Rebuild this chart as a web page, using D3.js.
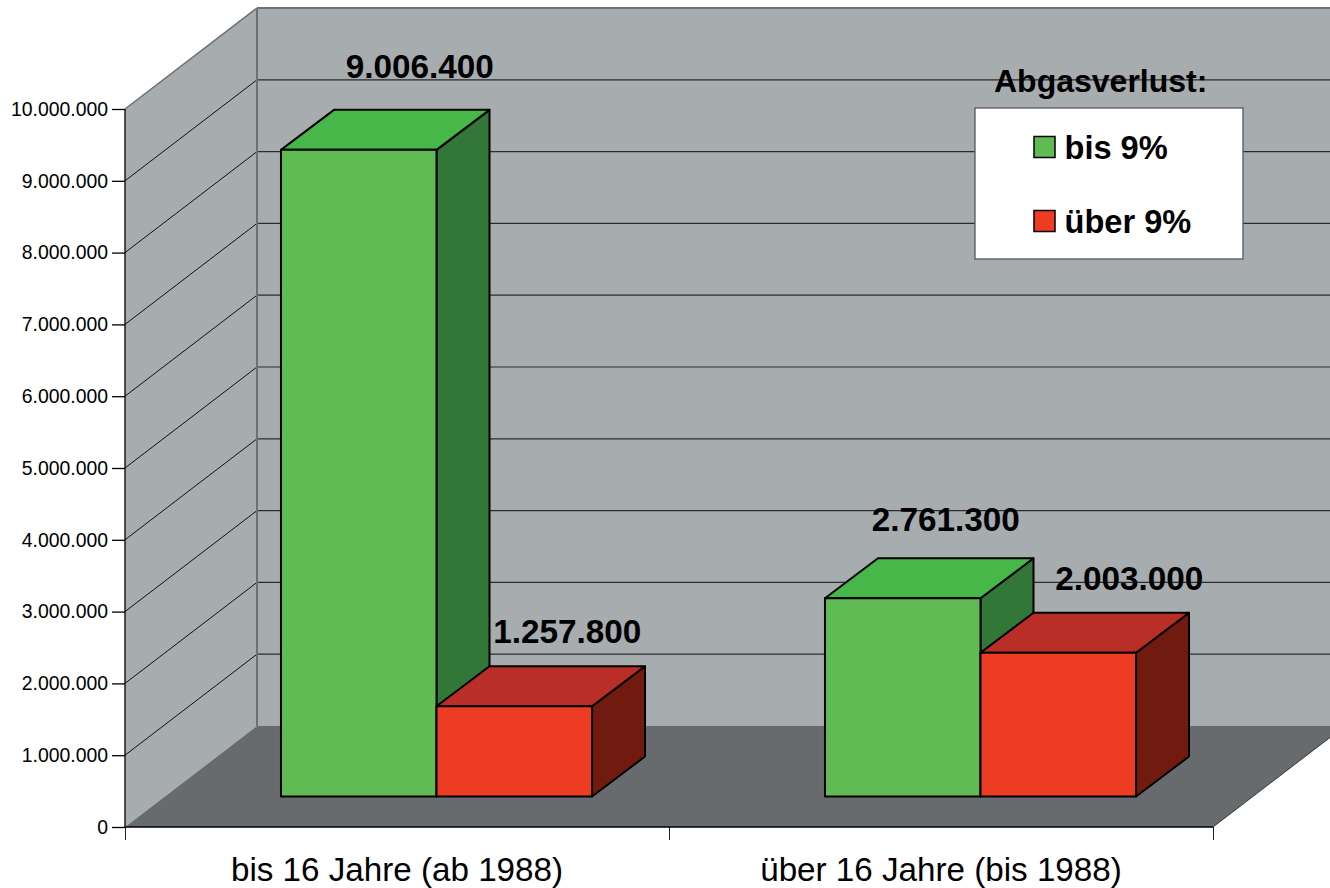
<!DOCTYPE html>
<html>
<head>
<meta charset="utf-8">
<script src="https://cdn.jsdelivr.net/npm/d3@7"></script>
<style>
  html, body { margin: 0; padding: 0; background: #fff; }
  svg { display: block; }
  text { font-family: "Liberation Sans", Arial, sans-serif; fill: #000; }
  .axis path { display: none; }
</style>
</head>
<body>
<div id="chart"></div>
<script>
const categories = ["bis 16 Jahre (ab 1988)", "über 16 Jahre (bis 1988)"];
const seriesNames = ["bis 9%", "über 9%"];
const under9 = [9006400, 2761300];
const over9 = [1257800, 2003000];
const yTicks = [0, 1000000, 2000000, 3000000, 4000000, 5000000, 6000000, 7000000, 8000000, 9000000, 10000000];
const legendTitle = "Abgasverlust:";

const width = 1330, height = 888;
const plotLeft = 125, plotRight = 1213, plotBottom = 827, plotTop = 109;
const wall = { dx: 132, dy: 101 };     // depth of the whole box
const bar = { dx: 53, dy: 40 };        // depth of a column
const inset = { dx: 39.5, dy: 30.5 };  // how far the columns stand from the front edge

const faces = {
  "bis 9%": { front: "#60bb55", top: "#48b749", side: "#337738" },
  "über 9%": { front: "#ee3b23", top: "#b92e26", side: "#701a10" }
};

// hand placed in the original, so they are not regular
const labelNudge = {
  "bis 9%": [{ x: 8, y: -32 }, { x: -10, y: -27 }],
  "über 9%": [{ x: 0, y: -23 }, { x: 18, y: -23 }]
};

const fmt = d3.formatLocale({ decimal: ",", thousands: ".", grouping: [3], currency: ["", ""] }).format(",d");

const svg = d3.select("#chart").append("svg").attr("width", width).attr("height", height);

const y = d3.scaleLinear().domain([0, 10000000]).range([plotBottom, plotTop]);
const x0 = d3.scaleBand().domain(categories).range([plotLeft, plotRight]);
const x1 = d3.scaleBand().domain(seriesNames).range([0, x0.bandwidth()]).paddingInner(0).paddingOuter(0.749);

// walls and floor
const pts = a => a.map(p => p.join(",")).join(" ");
const backX = plotLeft + wall.dx;
const backBottom = plotBottom - wall.dy;
const backTop = plotTop - wall.dy;

svg.append("rect").attr("x", backX).attr("y", backTop)
  .attr("width", width - backX).attr("height", backBottom - backTop)
  .attr("fill", "#a7acaf");
svg.append("polygon")
  .attr("points", pts([[plotLeft, plotBottom], [plotLeft, plotTop], [backX, backTop], [backX, backBottom]]))
  .attr("fill", "#a7acaf");
svg.append("line").attr("x1", plotLeft).attr("y1", plotTop).attr("x2", backX).attr("y2", backTop)
  .attr("stroke", "#6d7074").attr("stroke-width", 1.5);
svg.append("line").attr("x1", backX).attr("y1", backTop).attr("x2", width).attr("y2", backTop)
  .attr("stroke", "#6d7074").attr("stroke-width", 2);

// grid lines, back wall and side wall
const gridTicks = yTicks.filter(d => d > 0 && d < 10000000);
svg.append("g").selectAll("line").data(gridTicks).join("line")
  .attr("x1", backX).attr("x2", width)
  .attr("y1", d => y(d) - wall.dy).attr("y2", d => y(d) - wall.dy)
  .attr("stroke", "#2a2d30").attr("stroke-width", 1.2);
svg.append("g").selectAll("line").data(gridTicks).join("line")
  .attr("x1", plotLeft).attr("x2", backX)
  .attr("y1", d => y(d)).attr("y2", d => y(d) - wall.dy)
  .attr("stroke", "#111").attr("stroke-width", 1);

svg.append("line").attr("x1", backX).attr("y1", backTop).attr("x2", backX).attr("y2", backBottom)
  .attr("stroke", "#6d7074").attr("stroke-width", 2);

svg.append("polygon")
  .attr("points", pts([[plotLeft, plotBottom], [plotRight, plotBottom], [plotRight + wall.dx, backBottom], [backX, backBottom]]))
  .attr("fill", "#676b6e");
svg.append("line").attr("x1", plotRight).attr("y1", plotBottom).attr("x2", plotRight + wall.dx).attr("y2", backBottom)
  .attr("stroke", "#33363a").attr("stroke-width", 1);

// axes
const yAxis = d3.axisLeft(y).tickValues(yTicks).tickSize(13).tickPadding(4).tickFormat(fmt);
svg.append("g").attr("class", "axis").attr("transform", `translate(${plotLeft},0)`).call(yAxis)
  .call(g => g.selectAll("text").attr("font-size", 19.4).style("font-family", "Liberation Sans"))
  .call(g => g.selectAll("line").attr("stroke", "#000").attr("stroke-width", 1.3));

const xTickScale = d3.scaleLinear().domain([0, categories.length]).range([plotLeft, plotRight]);
svg.append("g").attr("class", "axis").attr("transform", `translate(0,${plotBottom})`)
  .call(d3.axisBottom(xTickScale).tickValues(d3.range(categories.length + 1)).tickSize(13).tickFormat(""))
  .call(g => g.selectAll("line").attr("stroke", "#222").attr("stroke-width", 1));

svg.append("g").attr("class", "axis").attr("transform", `translate(0,${plotBottom})`)
  .call(d3.axisBottom(x0).tickSize(0).tickPadding(30))
  .call(g => g.selectAll("text").attr("font-size", 33.2).style("font-family", "Liberation Sans"));

svg.append("line").attr("x1", plotLeft).attr("y1", plotTop).attr("x2", plotLeft).attr("y2", plotBottom)
  .attr("stroke", "#000").attr("stroke-width", 1.3);
svg.append("line").attr("x1", plotLeft).attr("y1", plotBottom).attr("x2", plotRight).attr("y2", plotBottom)
  .attr("stroke", "#000").attr("stroke-width", 1.5);

// columns
const rows = categories.flatMap((c, i) => [
  { cat: c, i, name: seriesNames[0], value: under9[i] },
  { cat: c, i, name: seriesNames[1], value: over9[i] }
]);

const baseY = plotBottom - inset.dy;
const colX = d => x0(d.cat) + x1(d.name) + inset.dx;
const colTop = d => y(d.value) - inset.dy;

const cols = svg.append("g").attr("stroke", "#000").attr("stroke-width", 2).attr("stroke-linejoin", "round")
  .selectAll("g").data(rows).join("g");

cols.append("polygon").attr("fill", d => faces[d.name].side)
  .attr("points", d => {
    const xr = colX(d) + x1.bandwidth();
    return pts([[xr, colTop(d)], [xr + bar.dx, colTop(d) - bar.dy], [xr + bar.dx, baseY - bar.dy], [xr, baseY]]);
  });
cols.append("polygon").attr("fill", d => faces[d.name].top)
  .attr("points", d => {
    const xl = colX(d), xr = xl + x1.bandwidth(), t = colTop(d);
    return pts([[xl, t], [xl + bar.dx, t - bar.dy], [xr + bar.dx, t - bar.dy], [xr, t]]);
  });
cols.append("rect").attr("fill", d => faces[d.name].front)
  .attr("x", colX).attr("y", colTop)
  .attr("width", x1.bandwidth()).attr("height", d => baseY - colTop(d));

// value labels
svg.append("g").selectAll("text").data(rows).join("text")
  .attr("text-anchor", "middle").attr("font-size", 33.3).attr("font-weight", "bold")
  .attr("x", d => colX(d) + x1.bandwidth() / 2 + bar.dx + labelNudge[d.name][d.i].x)
  .attr("y", d => colTop(d) - bar.dy + labelNudge[d.name][d.i].y)
  .text(d => fmt(d.value));

// legend
svg.append("rect").attr("x", 975).attr("y", 108).attr("width", 268).attr("height", 151)
  .attr("fill", "#fff").attr("stroke", "#55585c").attr("stroke-width", 1.3);
svg.append("text").attr("x", 994).attr("y", 92).attr("font-size", 32).attr("font-weight", "bold").text(legendTitle);

const legendY = d3.scalePoint().domain(seriesNames).range([147, 221]);
const legendRows = svg.append("g").selectAll("g").data(seriesNames).join("g")
  .attr("transform", d => `translate(0,${legendY(d)})`);
legendRows.append("rect").attr("x", 1034).attr("y", -10.5).attr("width", 21).attr("height", 21)
  .attr("fill", d => faces[d].front).attr("stroke", "#000").attr("stroke-width", 1.5);
legendRows.append("text").attr("x", 1064.5).attr("y", 12).attr("font-size", 32.6).attr("font-weight", "bold").text(d => d);
</script>
</body>
</html>
